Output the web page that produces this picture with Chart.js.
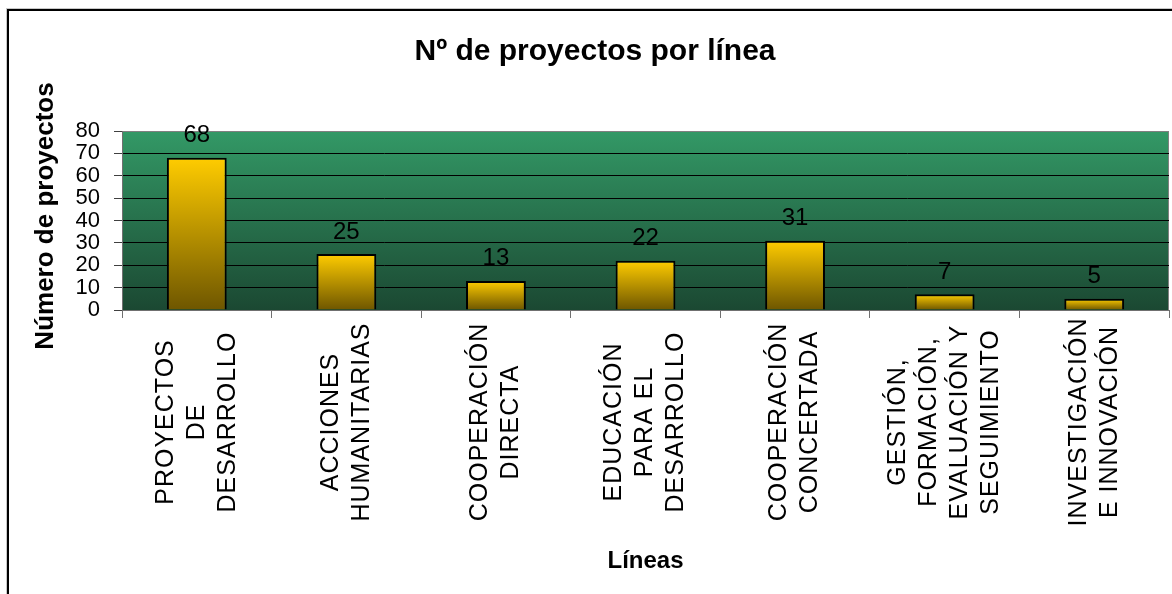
<!DOCTYPE html>
<html>
<head>
<meta charset="utf-8">
<script src="https://cdn.jsdelivr.net/npm/chart.js@4/dist/chart.umd.min.js"></script>
<style>
  body { margin: 0; background: #fff; }
  canvas { display: block; }
</style>
</head>
<body>
<canvas id="chart" width="1172" height="594"></canvas>
<script>
var FONT = '"Liberation Sans", Arial, sans-serif';

var chartTitle = 'Nº de proyectos por línea';
var yTitle = 'Número de proyectos';
var xTitle = 'Líneas';

var categories = [
	['PROYECTOS', 'DE', 'DESARROLLO'],
	['ACCIONES', 'HUMANITARIAS'],
	['COOPERACIÓN', 'DIRECTA'],
	['EDUCACIÓN', 'PARA EL', 'DESARROLLO'],
	['COOPERACIÓN', 'CONCERTADA'],
	['GESTIÓN,', 'FORMACIÓN,', 'EVALUACIÓN Y', 'SEGUIMIENTO'],
	['INVESTIGACIÓN', 'E INNOVACIÓN']
];
var projects = [68, 25, 13, 22, 31, 7, 5];
var yTicks = [0, 10, 20, 30, 40, 50, 60, 70, 80];

// gold gradient per bar, from its top down to the zero line
function barFill(c) {
	var chart = c.chart;
	if (!chart.chartArea || !chart.scales.y) return '#ffcc00';
	var y = chart.scales.y;
	var top = y.getPixelForValue(c.raw);
	var base = y.getPixelForValue(0);
	var g = chart.ctx.createLinearGradient(0, top, 0, base);
	g.addColorStop(0, '#ffcc00');
	g.addColorStop(1, '#6e5600');
	return g;
}

var decor = {
	id: 'decor',
	beforeDraw: function (chart) {
		var ctx = chart.ctx, a = chart.chartArea;
		ctx.save();
		// outer frame
		ctx.strokeStyle = '#c8c8c8';
		ctx.lineWidth = 1;
		ctx.strokeRect(6.5, 8.5, chart.width + 20, chart.height + 20);
		ctx.strokeStyle = '#000';
		ctx.lineWidth = 2;
		ctx.strokeRect(8, 10, chart.width + 20, chart.height + 20);
		// plot background
		var g = ctx.createLinearGradient(0, a.top, 0, a.bottom);
		g.addColorStop(0, '#339966');
		g.addColorStop(1, '#1b4832');
		ctx.fillStyle = g;
		ctx.fillRect(a.left, a.top, a.right - a.left, a.bottom - a.top);
		ctx.strokeStyle = '#808080';
		ctx.lineWidth = 1;
		ctx.strokeRect(a.left + 0.5, a.top + 0.5, a.right - a.left - 1, a.bottom - a.top);
		ctx.restore();
	},
	afterDatasetsDraw: function (chart) {
		var ctx = chart.ctx;
		var meta = chart.getDatasetMeta(0);
		ctx.save();
		ctx.fillStyle = '#000';
		ctx.font = '24px ' + FONT;
		ctx.textAlign = 'center';
		ctx.textBaseline = 'alphabetic';
		meta.data.forEach(function (bar, i) {
			ctx.fillText(String(projects[i]), bar.x, bar.y - 15.5);
		});
		ctx.restore();
	},
	afterDraw: function (chart) {
		var ctx = chart.ctx, a = chart.chartArea;
		var x = chart.scales.x;
		ctx.save();
		ctx.fillStyle = '#000';

		// chart title
		ctx.font = 'bold 30px ' + FONT;
		ctx.textAlign = 'center';
		ctx.textBaseline = 'alphabetic';
		ctx.fillText(chartTitle, 595, 60);

		// x axis title
		ctx.font = 'bold 24px ' + FONT;
		ctx.fillText(xTitle, (a.left + a.right) / 2, 568);

		// y axis title
		ctx.save();
		ctx.translate(53, 216);
		ctx.rotate(-Math.PI / 2);
		ctx.font = 'bold 26px ' + FONT;
		ctx.textAlign = 'center';
		ctx.fillText(yTitle, 0, 0);
		ctx.restore();

		// category labels, rotated, lines centred
		ctx.font = '25px ' + FONT;
		ctx.letterSpacing = '1px';
		ctx.textAlign = 'center';
		ctx.textBaseline = 'middle';
		categories.forEach(function (lines, i) {
			var cx = x.getPixelForValue(i);
			ctx.save();
			ctx.translate(cx, 422);
			ctx.rotate(-Math.PI / 2);
			lines.forEach(function (line, j) {
				ctx.fillText(line, 0, (j - (lines.length - 1) / 2) * 31);
			});
			ctx.restore();
		});
		ctx.restore();
	}
};

new Chart(document.getElementById('chart'), {
	type: 'bar',
	data: {
		labels: categories,
		datasets: [{
			data: projects,
			backgroundColor: barFill,
			borderColor: '#000',
			borderWidth: 2,
			categoryPercentage: 1,
			barPercentage: 0.4
		}]
	},
	options: {
		responsive: false,
		animation: false,
		layout: { padding: { left: 0, top: 131, right: 3, bottom: 0 } },
		plugins: {
			legend: { display: false },
			tooltip: { enabled: false },
			title: { display: false }
		},
		scales: {
			x: {
				grid: {
					offset: true,
					drawOnChartArea: false,
					drawTicks: true,
					tickLength: 8,
					tickColor: '#707070'
				},
				border: { color: '#707070' },
				ticks: { display: false },
				afterFit: function (s) { s.height = 284; }
			},
			y: {
				min: 0,
				max: 80,
				afterBuildTicks: function (s) {
					s.ticks = yTicks.map(function (v) { return { value: v }; });
				},
				grid: {
					color: function (c) { return c.tick && c.tick.value === 80 ? '#808080' : '#000'; },
					tickLength: 8,
					tickColor: '#404040'
				},
				border: { color: '#707070' },
				ticks: {
					color: '#000',
					padding: 14,
					autoSkip: false,
					font: { family: FONT, size: 22 }
				},
				afterFit: function (s) { s.width = 122; }
			}
		}
	},
	plugins: [decor]
});
</script>
</body>
</html>
